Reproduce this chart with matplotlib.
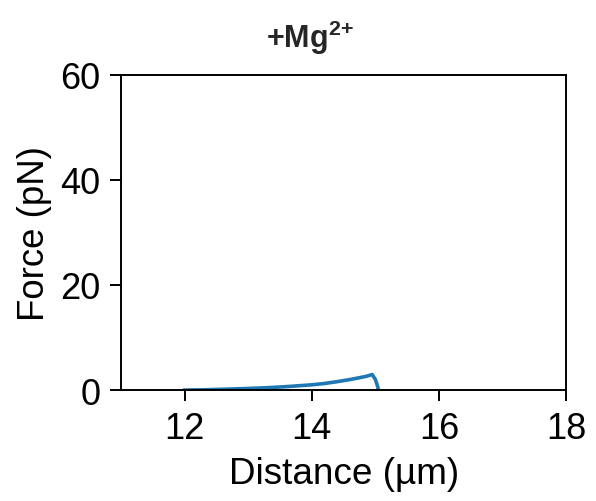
import matplotlib
matplotlib.use("Agg")
import matplotlib.pyplot as plt

plt.rcParams['font.family'] = ['Liberation Sans', 'DejaVu Sans']
plt.rcParams['mathtext.fontset'] = 'custom'
plt.rcParams['mathtext.rm'] = 'Liberation Sans'
plt.rcParams['mathtext.bf'] = 'Liberation Sans:bold'

# force-distance trace
distance = [12.0, 12.3, 12.6, 13.0, 13.3, 13.6, 14.0, 14.2, 14.4, 14.6, 14.75, 14.85, 14.95, 15.0, 15.03, 15.05]
force = [0.0, 0.05, 0.15, 0.3, 0.45, 0.65, 1.0, 1.25, 1.6, 2.0, 2.35, 2.6, 2.95, 2.0, 0.9, 0.0]

xticks = [12, 14, 16, 18]
yticks = [0, 20, 40, 60]

fig = plt.figure(figsize=(2.98, 2.51), dpi=200)
ax = fig.add_axes([0.203, 0.221, 0.747, 0.628])
ax.plot(distance, force, color='#1f77b4', lw=1.3)

ax.set_xlim(11, 18)
ax.set_ylim(0, 60)
ax.set_xticks(xticks)
ax.set_yticks(yticks)
ax.tick_params(labelsize=13, length=4, width=0.7)
for s in ax.spines.values():
    s.set_linewidth(0.7)
ax.set_xlabel('Distance (µm)', fontsize=13.3, labelpad=3.5)
ax.set_ylabel('Force (pN)', fontsize=13.2, labelpad=3.0)

fig.text(0.52, 0.924, r'+Mg$^{\mathbf{2{+}}}$', ha='center', va='center',
         fontsize=11, fontweight='bold', color='#262626')

fig.savefig('out.png', dpi=200)
